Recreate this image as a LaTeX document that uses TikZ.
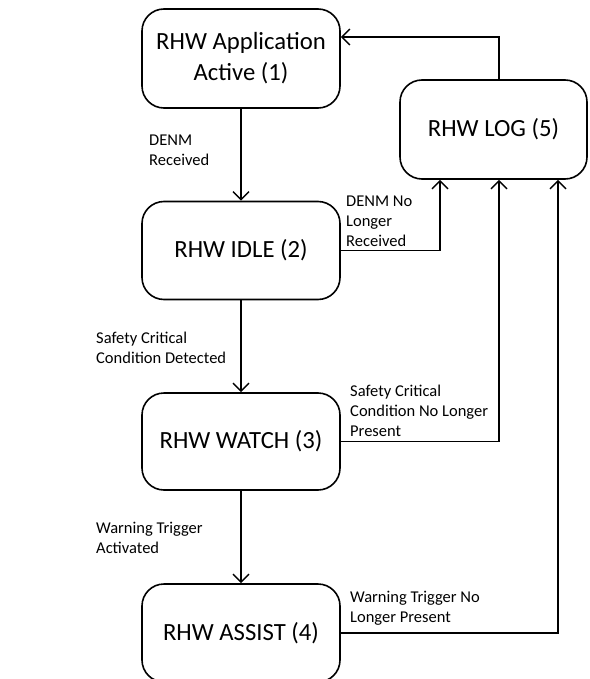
\documentclass[tikz,border=0pt]{standalone}
\usepackage{fontspec}
\setmainfont{Carlito}
\usetikzlibrary{arrows.meta}
\tikzset{
  state/.style={draw, line width=1.6pt, rounded corners=22pt, minimum width=198pt, align=center,
    inner sep=0pt, font=\fontsize{24.7}{31}\selectfont},
  arr/.style={line width=1.4pt, -{Straight Barb[length=8pt,width=16pt,line width=1.4pt]}},
  lbl/.style={anchor=west, align=left, inner sep=0pt, font=\fontsize{16.5}{20}\selectfont}
}
\begin{document}
\begin{tikzpicture}[x=1pt,y=-1pt]
\useasboundingbox (0,0) rectangle (589,679);
\clip (0,0) rectangle (589,679);
\node[state, minimum height=99pt] (b1) at (241,58.5) {RHW Application\\Active (1)};
\node[state, minimum height=98pt] (b2) at (241,250.5) {RHW IDLE (2)};
\node[state, minimum height=97pt] (b3) at (241,441.5) {RHW WATCH (3)};
\node[state, minimum height=98pt] (b4) at (241,633) {RHW ASSIST (4)};
\node[state, minimum height=99pt, minimum width=187pt] (b5) at (493.5,129.5) {RHW LOG (5)};

\draw[arr] (b1.south) -- (b2.north);
\draw[arr] (b2.south) -- (b3.north);
\draw[arr] (b3.south) -- (b4.north);
\draw[arr] ([xshift=5.5pt]b5.north) |- ([yshift=21.5pt]b1.east);
\draw[arr] (b2.east) -| ([xshift=-53.5pt]b5.south);
\draw[arr] (b3.east) -| ([xshift=5.5pt]b5.south);
\draw[arr] (b4.east) -| ([xshift=64.5pt]b5.south);

\node[lbl] (l1) at (149,150.5) {DENM\\Received};
\node[lbl] (l2) at (96,348) {Safety Critical\\Condition Detected};
\node[lbl] (l3) at (96,538) {Warning Trigger\\Activated};
\node[lbl] (l4) at (346,221) {DENM No\\Longer\\Received};
\node[lbl] (l5) at (350,411) {Safety Critical\\Condition No Longer\\Present};
\node[lbl] (l6) at (350,608) {Warning Trigger No\\Longer Present};
\end{tikzpicture}
\end{document}
